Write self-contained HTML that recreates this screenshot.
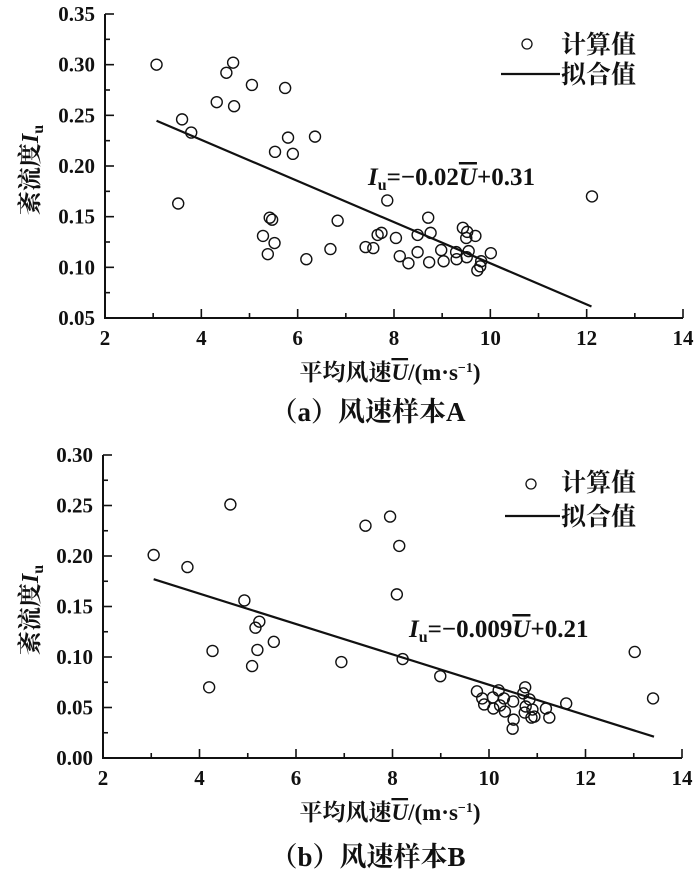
<!DOCTYPE html>
<html><head><meta charset="utf-8">
<style>
html,body{margin:0;padding:0;background:#fff;}
svg{display:block;}
text{font-family:"Liberation Serif","Noto Serif CJK SC",serif;fill:#111;}
</style></head>
<body>
<svg id="fig" width="700" height="875" viewBox="0 0 700 875" xmlns="http://www.w3.org/2000/svg"></svg>
<script>
// Chart A data
const aXs = [3.07,4.66,4.52,5.05,5.74,4.32,4.68,3.60,3.79,5.80,6.36,5.53,5.90,3.52,7.86,12.11,5.42,5.47,6.83,8.71,5.28,5.52,5.38,6.18,6.68,7.41,7.57,7.66,7.74,8.04,8.12,8.30,8.49,8.49,8.76,8.73,8.98,9.03,9.29,9.30,9.43,9.52,9.50,9.55,9.51,9.69,9.73,9.79,9.81,10.01];
const aYs = [0.300,0.302,0.292,0.280,0.277,0.263,0.259,0.246,0.233,0.228,0.229,0.214,0.212,0.163,0.166,0.170,0.149,0.147,0.146,0.149,0.131,0.124,0.113,0.108,0.118,0.120,0.119,0.132,0.134,0.129,0.111,0.104,0.132,0.115,0.134,0.105,0.117,0.106,0.115,0.108,0.139,0.135,0.129,0.116,0.110,0.131,0.097,0.101,0.106,0.114];
const aFit = [-0.0203, 0.307];
const aFitRange = [3.07, 12.1];
const aYTicks = ["0.05","0.10","0.15","0.20","0.25","0.30","0.35"];
// Chart B data
const bXs = [3.05,3.75,4.64,4.93,4.27,4.20,5.16,5.24,5.20,5.09,5.54,6.94,7.44,7.95,8.14,8.09,8.21,8.99,13.02,13.40,11.60,9.75,9.86,9.90,10.09,10.08,10.20,10.23,10.31,10.33,10.50,10.51,10.49,10.75,10.71,10.74,10.76,10.84,10.90,10.94,10.88,11.18,11.25];
const bYs = [0.201,0.189,0.251,0.156,0.106,0.070,0.129,0.135,0.107,0.091,0.115,0.095,0.230,0.239,0.210,0.162,0.098,0.081,0.105,0.059,0.054,0.066,0.059,0.053,0.049,0.060,0.067,0.052,0.059,0.046,0.056,0.038,0.029,0.070,0.064,0.045,0.051,0.058,0.048,0.041,0.040,0.049,0.040];
const bFit = [-0.01504, 0.2229];
const bFitRange = [3.05, 13.42];
const bYTicks = ["0.00","0.05","0.10","0.15","0.20","0.25","0.30"];
const xTicks = ["2","4","6","8","10","12","14"];

const NS="http://www.w3.org/2000/svg";
const svg=document.getElementById('fig');
function mk(tag,attrs,parent){const e=document.createElementNS(NS,tag);for(const k in attrs)e.setAttribute(k,attrs[k]);(parent||svg).appendChild(e);return e;}

function chart(cfg){
  const g=mk('g',{});
  
  
  const X=v=>cfg.x0+(v-2)/12*(cfg.x1-cfg.x0);
  const Y=v=>cfg.yb-(v-cfg.ymin)/(cfg.ymax-cfg.ymin)*(cfg.yb-cfg.yt);
  const ax=mk('path',{d:`M${cfg.x0},${cfg.yt} V${cfg.yb} H${cfg.x1}`,stroke:'#111','stroke-width':2,fill:'none'},g);
  
  
  for(let v=2;v<=14;v+=1){
    const major=(v%2===0);
    mk('line',{x1:X(v),x2:X(v),y1:cfg.yb,y2:cfg.yb-(major?9:5),stroke:'#111','stroke-width':1.6},g);
  }
  xTicks.forEach(t=>{
    const tx=mk('text',{x:X(+t),y:cfg.yb+27,'text-anchor':'middle','font-size':21,'font-weight':'bold'},g);
    tx.textContent=t;
    
    
  });
  const step=0.025;
  for(let i=0;i<=Math.round((cfg.ymax-cfg.ymin)/step);i++){
    const v=cfg.ymin+i*step;const major=(i%2===0);
    mk('line',{x1:cfg.x0,x2:cfg.x0+(major?9:5),y1:Y(v),y2:Y(v),stroke:'#111','stroke-width':1.6},g);
  }
  cfg.yTicks.forEach(t=>{
    const tx=mk('text',{x:cfg.x0-10,y:Y(+t)+7,'text-anchor':'end','font-size':21,'font-weight':'bold'},g);
    tx.textContent=t;
    
    
  });
  const fl=mk('line',{x1:X(cfg.fr[0]),y1:Y(cfg.fit[0]*cfg.fr[0]+cfg.fit[1]),x2:X(cfg.fr[1]),y2:Y(cfg.fit[0]*cfg.fr[1]+cfg.fit[1]),stroke:'#111','stroke-width':2.2},g);
  
  
  cfg.xs.forEach((xv,i)=>{
    const c=mk('circle',{cx:X(xv),cy:Y(cfg.ys[i]),r:5.5,fill:'none',stroke:'#111','stroke-width':1.4},g);
    
    
  });
}
chart({name:'chart-a',x0:105,x1:683,yt:14,yb:318,ymin:0.05,ymax:0.35,xs:aXs,ys:aYs,fit:aFit,fr:aFitRange,yTicks:aYTicks});
chart({name:'chart-b',x0:103,x1:682,yt:455,yb:758,ymin:0,ymax:0.30,xs:bXs,ys:bYs,fit:bFit,fr:bFitRange,yTicks:bYTicks});
</script>
<svg style="position:absolute;left:0;top:0" width="700" height="875" xmlns="http://www.w3.org/2000/svg">
  <g>
    <circle cx="527" cy="44" r="5" fill="none" stroke="#111" stroke-width="1.3"/>
    <text x="561" y="53" font-size="25" font-weight="bold">计算值</text>
    <line x1="501" y1="74" x2="560" y2="74" stroke="#111" stroke-width="2.2"/>
    <text x="561" y="83" font-size="25" font-weight="bold">拟合值</text>
  </g>
  <text x="368" y="185" font-size="25" font-weight="bold"><tspan font-style="italic">I</tspan><tspan font-size="16" dy="5">u</tspan><tspan dy="-5">=−0.02</tspan><tspan font-style="italic" text-decoration="overline">U</tspan><tspan>+0.31</tspan></text>
  <text transform="translate(38,170) rotate(-90)" text-anchor="middle" font-size="24" font-weight="bold">紊流度<tspan font-style="italic">I</tspan><tspan font-size="16" dy="5">u</tspan></text>
  <text x="390" y="380" text-anchor="middle" font-size="23" font-weight="bold">平均风速<tspan font-style="italic" text-decoration="overline">U</tspan>/(m·s<tspan font-size="14" dy="-8">−1</tspan><tspan dy="8">)</tspan></text>
  <text x="368" y="421" text-anchor="middle" font-size="27" font-weight="bold">（a）风速样本A</text>
  <g>
    <circle cx="531" cy="484" r="5" fill="none" stroke="#111" stroke-width="1.3"/>
    <text x="561" y="491" font-size="25" font-weight="bold">计算值</text>
    <line x1="505" y1="516" x2="560" y2="516" stroke="#111" stroke-width="2.2"/>
    <text x="561" y="525" font-size="25" font-weight="bold">拟合值</text>
  </g>
  <text x="409" y="637" font-size="25" font-weight="bold"><tspan font-style="italic">I</tspan><tspan font-size="16" dy="5">u</tspan><tspan dy="-5">=−0.009</tspan><tspan font-style="italic" text-decoration="overline">U</tspan><tspan>+0.21</tspan></text>
  <text transform="translate(38,610) rotate(-90)" text-anchor="middle" font-size="24" font-weight="bold">紊流度<tspan font-style="italic">I</tspan><tspan font-size="16" dy="5">u</tspan></text>
  <text x="390" y="820" text-anchor="middle" font-size="23" font-weight="bold">平均风速<tspan font-style="italic" text-decoration="overline">U</tspan>/(m·s<tspan font-size="14" dy="-8">−1</tspan><tspan dy="8">)</tspan></text>
  <text x="368" y="866" text-anchor="middle" font-size="27" font-weight="bold">（b）风速样本B</text>
</svg>
</body></html>
